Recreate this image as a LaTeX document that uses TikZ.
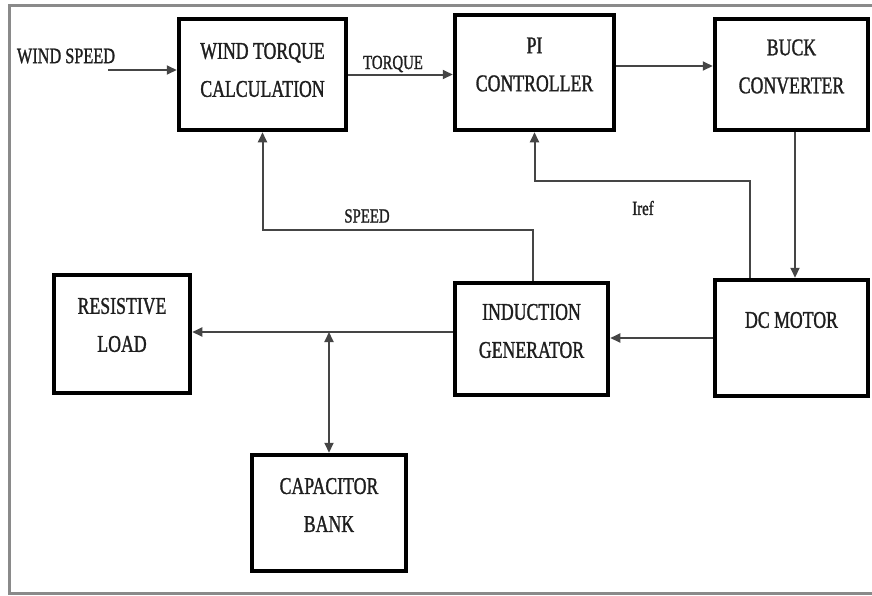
\documentclass[tikz,border=0pt]{standalone}
\usepackage{fontspec}
\setmainfont[FakeStretch=0.74, FakeBold=1.2]{Liberation Serif}
\usepackage{tikz}
\usetikzlibrary{positioning}
\usetikzlibrary{calc}
\usetikzlibrary{arrows.meta}
\definecolor{framegray}{HTML}{8A8A8A}
\definecolor{wiregray}{HTML}{454545}
\definecolor{inkgray}{HTML}{1E1E1E}

\begin{document}
\begin{tikzpicture}[x=1pt, y=-1pt,
    block/.style={draw=black, line width=4.5pt, minimum width=#1, inner sep=0pt},
    blocktext/.style={align=center, text=inkgray, font=\fontsize{24}{38}\selectfont},
    lbl/.style={text=inkgray, font=\fontsize{20}{22}\selectfont, inner sep=0pt},
    flow/.style={draw=wiregray, line width=2pt, -{Triangle[length=10pt,width=9pt]}},
    both/.style={draw=wiregray, line width=2pt, {Triangle[length=10pt,width=9pt]}-{Triangle[length=10pt,width=9pt]}}
    ]

    \useasboundingbox (0,0) rectangle (872,595);
    \draw[framegray, line width=3pt] (880,5) -- (9,5) -- (9,593) -- (880,593);

    \node[block=167pt, minimum height=111pt] (wtc) at (262.5,74.5) {};
    \node[blocktext] (wtc-txt) at ([yshift=4.5pt]wtc.center) {WIND TORQUE\\CALCULATION};

    \node[block=159pt, minimum height=115pt] (pi) at (534.5,72.5) {};
    \node[blocktext] (pi-txt) at ([yshift=8pt]pi.center) {PI\\CONTROLLER};

    \node[block=153pt, minimum height=111pt] (buck) at (791.5,74.5) {};
    \node[blocktext] (buck-txt) at ([yshift=8pt]buck.center) {BUCK\\CONVERTER};

    \node[block=136pt, minimum height=118pt] (load) at (122,334) {};
    \node[blocktext] (load-txt) at ([yshift=9pt]load.center) {RESISTIVE\\LOAD};

    \node[block=153pt, minimum height=112pt] (gen) at (531.5,339) {};
    \node[blocktext] (gen-txt) at ([yshift=8pt]gen.center) {INDUCTION\\GENERATOR};

    \node[block=153pt, minimum height=116pt] (motor) at (791.5,338) {};
    \node[blocktext] (motor-txt) at ([yshift=18pt]motor.center) {DC MOTOR};

    \node[block=154pt, minimum height=116pt] (cap) at (329,513) {};
    \node[blocktext] (cap-txt) at ([yshift=8pt]cap.center) {CAPACITOR\\BANK};

    \node[lbl, font=\fontsize{22}{24}\selectfont] (windspeed) at (66,56) {WIND SPEED};
    \coordinate (wind-in) at (108,70);
    \draw[flow] (wind-in) -- (wind-in -| wtc.west);

    \draw[flow] (wtc.east) -- (wtc.east -| pi.west);
    \node[lbl] (torque) at (393,64) {TORQUE};

    \draw[flow] ([yshift=6.5pt]pi.east) -- ([yshift=6.5pt]pi.east -| buck.west);

    \draw[flow] ([xshift=3.5pt]buck.south) -- ([xshift=3.5pt]motor.north);

    \draw[flow] ([xshift=-41.5pt]motor.north) -- ++(0,-97) -| (pi.south);
    \node[lbl] (iref) at (643,208) {Iref};

    \draw[flow] ([xshift=1.5pt]gen.north) -- ++(0,-51) -| (wtc.south);
    \node[lbl] (speed) at (367,216) {SPEED};

    \draw[flow] (motor.west) -- (motor.west -| gen.east);

    \draw[flow] ([yshift=7pt]gen.west) -- ([yshift=7pt]gen.west -| load.east);
    \coordinate (tap) at ([yshift=7pt]gen.west -| cap.north);
    \draw[both] (tap) -- (cap.north);

\end{tikzpicture}
\end{document}
